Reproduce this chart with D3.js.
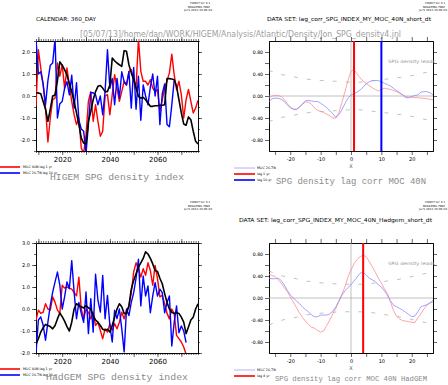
<!DOCTYPE html>
<html>
<head>
<meta charset="utf-8">
<script src="https://cdn.jsdelivr.net/npm/d3@7"></script>
<style>
body { margin: 0; background: #fff; }
text { font-family: "DejaVu Sans", sans-serif; }
</style>
</head>
<body>
<svg id="fig" width="448" height="385"></svg>
<script>
// ---- data ----
var years = d3.range(2009, 2078);
var lags = d3.range(-27, 28);

// HiGEM (top left)
var higemIndex = [0.14,0.14,0.1,-0.25,-0.6,-1.15,-0.6,0.0,0.05,0.7,
  1.55,1.4,1.2,0.95,0.55,0.2,-0.25,-0.77,-1.3,-1.9,
  -2.14,-2.18,-1.15,-0.7,-0.17,0.2,0.44,0.48,0.36,0.2,
  0.2,0.5,1.72,1.6,1.5,1.42,1.35,2.06,2.03,1.42,
  1.05,0.74,0.36,-0.02,-0.1,-0.06,-0.17,-0.32,-0.47,-0.47,
  -0.44,-0.44,-0.42,-0.42,-0.4,0.79,0.79,0.77,0.74,0.44,
  -0.17,-0.77,-1.27,-1.33,-0.95,-1.08,-1.6,-2.06,-2.18];
var higemMoc40 = [-0.47,2.1,1.27,0.5,-0.55,-2.09,-1.0,-0.17,-0.1,1.5,
  0.9,1.42,0.36,1.27,0.5,-0.24,-0.85,-1.3,-1.0,-2.36,
  -2.6,-1.76,-0.24,0.2,-1.15,-0.4,-1.15,-1.83,-1.6,0.0,
  0.06,-0.85,0.06,0.97,0.36,-0.24,0.2,0.67,0.5,1.12,
  1.2,0.82,0.36,2.6,1.12,0.67,0.67,0.5,0.74,0.36,
  0.2,0.29,-0.7,-0.17,0.36,0.7,1.05,1.9,0.97,0.29,
  0.67,0.06,-1.0,-0.17,0.3,-0.24,-0.77,-0.55,-0.2];
var higemMoc26 = [2.6,1.0,1.1,0.55,-0.4,0.7,1.4,1.5,2.6,-1.0,
  -0.35,-0.25,0.35,0.65,0.05,0.95,-0.55,0.6,-1.1,-1.5,
  -1.6,-2.6,-1.3,0.15,0.15,0.05,-0.4,0.0,-0.85,0.2,
  2.1,0.35,0.8,-0.4,0.8,-0.1,1.1,0.65,0.5,1.1,
  -0.55,1.3,-0.6,0.9,-1.1,0.5,0.0,-0.4,0.4,1.0,
  0.0,0.9,-1.3,0.1,0.55,-1.3,-1.4,-0.4,0.7];

// HadGEM (bottom left)
var hadgemIndex = [-1.6,-1.35,-1.05,-0.85,-0.7,-0.75,-0.8,-0.9,-0.75,-0.45,
  -0.18,-0.35,-0.55,-0.8,-1.0,-0.6,0.0,0.24,0.15,0.1,
  0.05,0.15,0.05,0.0,-0.3,-0.5,-0.6,-0.75,-0.92,-0.97,
  -0.92,-1.05,-0.75,-0.37,0.0,0.24,0.1,-0.2,-0.2,0.15,
  0.9,1.3,1.6,1.9,2.1,2.3,2.6,2.5,2.3,2.05,
  1.75,1.7,1.4,1.15,0.7,0.3,0.0,-0.15,-0.2,-0.17,
  -0.2,-0.37,-0.6,-1.12,-0.82,-0.5,-0.37,0.0,0.24];
var hadgemMoc40 = [-0.5,-0.05,-0.2,-0.15,0.24,0.0,-0.05,0.55,0.3,-0.05,
  -0.2,1.08,0.95,1.0,0.95,0.9,0.75,0.6,1.45,0.0,
  -0.45,0.0,-0.15,-0.45,-0.15,-0.75,-0.6,-0.97,-1.35,-0.9,
  -1.05,-0.67,-0.97,-0.67,-0.9,-0.6,-0.15,-0.45,-0.05,0.1,
  0.75,1.68,2.1,1.83,1.45,1.83,1.53,2.1,1.75,1.08,
  1.98,1.38,0.55,0.62,0.24,-0.2,-0.45,0.0,-0.2,-1.2,
  -1.35,-1.5,-1.73,-2.05];
var hadgemMoc26 = [-2.0,-0.5,-0.36,-0.74,-1.42,-0.6,0.17,0.77,1.23,1.68,
  1.08,0.0,0.55,1.23,0.92,2.2,0.77,-0.44,0.3,-0.2,
  -0.6,0.77,-1.12,0.47,-1.05,1.58,0.4,-0.14,1.53,-0.44,
  0.62,-0.74,-1.5,-0.06,-0.44,0.0,-0.9,-1.95,0.0,-0.3,
  0.3,0.74,1.4,2.26,0.14,1.5,0.59,1.05,-0.17,0.6,
  1.2,0.59,0.9,0.74,-0.17,0.3,0.59,-1.68,-0.62,0.14,
  -1.08,-0.77,-1.0,-1.53];

// lag correlations, lags -27..27
var corrHigem40 = [-0.04,0.0,0.01,0.01,-0.01,-0.06,-0.14,-0.2,-0.24,-0.25,
  -0.21,-0.15,-0.11,-0.11,-0.15,-0.22,-0.26,-0.28,-0.3,-0.33,
  -0.36,-0.4,-0.4,-0.3,-0.12,0.08,0.28,0.45,0.48,0.4,
  0.33,0.27,0.23,0.19,0.15,0.12,0.09,0.12,0.14,0.13,
  0.12,0.1,0.08,0.05,0.02,-0.01,-0.02,-0.02,-0.03,-0.03,
  -0.04,-0.04,-0.05,-0.06,-0.07];
var corrHigem26 = [-0.1,-0.05,-0.04,-0.04,-0.06,-0.1,-0.16,-0.21,-0.24,-0.24,
  -0.2,-0.14,-0.09,-0.08,-0.09,-0.1,-0.1,-0.13,-0.17,-0.21,
  -0.27,-0.32,-0.39,-0.34,-0.25,-0.14,-0.04,0.02,0.04,0.07,
  0.11,0.16,0.22,0.26,0.28,0.28,0.28,0.26,0.23,0.21,
  0.18,0.14,0.1,0.06,0.02,-0.03,-0.03,-0.01,0.01,0.02,
  0.07,0.08,0.08,0.06,0.02];
var corrHadgem40 = [0.43,0.41,0.39,0.33,0.27,0.19,0.12,0.02,-0.07,-0.17,
  -0.27,-0.35,-0.42,-0.48,-0.53,-0.55,-0.59,-0.62,-0.6,-0.5,
  -0.4,-0.29,-0.19,-0.06,0.07,0.2,0.38,0.51,0.62,0.7,
  0.75,0.78,0.75,0.66,0.57,0.47,0.36,0.27,0.17,0.08,
  -0.07,-0.23,-0.33,-0.38,-0.41,-0.42,-0.43,-0.44,-0.45,-0.36,
  -0.29,-0.2,-0.13,-0.09,-0.04];
var corrHadgem26 = [0.36,0.35,0.35,0.36,0.32,0.24,0.14,0.06,0.0,-0.05,
  -0.1,-0.16,-0.21,-0.25,-0.31,-0.34,-0.34,-0.31,-0.31,-0.31,
  -0.29,-0.24,-0.16,-0.06,0.05,0.13,0.19,0.24,0.31,0.38,
  0.45,0.47,0.42,0.36,0.33,0.3,0.24,0.2,0.13,0.05,
  -0.05,-0.13,-0.16,-0.19,-0.22,-0.26,-0.3,-0.34,-0.33,-0.25,
  -0.16,-0.14,-0.12,-0.09,-0.07];

// significance levels (dashed)
var sigLags = [-27,-24,-21,-18,-15,-12,-9,-6,-3,0,3,6,9,12,15,18,21,24,27];
var sigHigem = [0.47,0.4,0.37,0.34,0.31,0.29,0.28,0.27,0.26,0.25,0.25,0.27,0.29,0.31,0.33,0.35,0.38,0.42,0.46];
var sigHadgem = [0.49,0.42,0.38,0.35,0.31,0.29,0.27,0.26,0.25,0.25,0.25,0.26,0.28,0.31,0.33,0.37,0.4,0.44,0.47];

var lagMarksTop = [1, 10];
var lagMarksBottom = [4];

var yearLabels = [2020, 2040, 2060];
var lagLabels = [-20, -10, 0, 10, 20];

var svg = d3.select("#fig");
var clipN = 0;

function onlyLabels(list, fmt) {
  return function(d) { return list.indexOf(d) >= 0 ? fmt(d) : ""; };
}

function frame(x, y, xMajor, xMinor, xFmt, yMajor, yMinor, yFmt, xSize, ySize) {
  var xl = x.range()[0], xr = x.range()[1], yb = y.range()[0], yt = y.range()[1];
  var sides = [
    [d3.axisBottom, "translate(0," + yb + ")", x, xMinor, xMajor, xFmt, xSize],
    [d3.axisTop, "translate(0," + yt + ")", x, xMinor, xMajor, null, 0],
    [d3.axisLeft, "translate(" + xl + ",0)", y, yMinor, yMajor, yFmt, ySize],
    [d3.axisRight, "translate(" + xr + ",0)", y, yMinor, yMajor, null, 0]
  ];
  sides.forEach(function(s) {
    svg.append("g").attr("transform", s[1])
      .call(s[0](s[2]).tickValues(s[3]).tickSize(2).tickSizeOuter(0).tickFormat(""));
    var g = svg.append("g").attr("transform", s[1])
      .call(s[0](s[2]).tickValues(s[4]).tickSize(4).tickSizeOuter(0).tickPadding(2)
        .tickFormat(s[5] ? s[5] : ""));
    g.attr("font-family", "DejaVu Sans").attr("font-size", s[6] || 5);
  });
  svg.selectAll(".domain").attr("stroke", "#000").attr("stroke-width", 0.8);
  svg.selectAll(".tick line").attr("stroke", "#000").attr("stroke-width", 0.6);
  clipN++;
  svg.append("clipPath").attr("id", "clip" + clipN)
    .append("rect").attr("x", xl).attr("y", yt).attr("width", xr - xl).attr("height", yb - yt);
  return "url(#clip" + clipN + ")";
}

function series(x, y, clip, xs, vals, color, width) {
  var line = d3.line().x(function(d, i) { return x(xs[i]); }).y(function(d) { return y(d); });
  svg.append("path").datum(vals)
    .attr("clip-path", clip)
    .attr("fill", "none").attr("stroke", color).attr("stroke-width", width)
    .attr("stroke-linejoin", "round")
    .attr("d", line);
}

function text(x, y, s, size, color, opts) {
  opts = opts || {};
  var t = svg.append("text").attr("x", x).attr("y", y).attr("font-size", size)
    .attr("fill", color).text(s);
  if (opts.len) t.attr("textLength", opts.len).attr("lengthAdjust", "spacingAndGlyphs");
  if (opts.family) t.style("font-family", opts.family);
  if (opts.anchor) t.attr("text-anchor", opts.anchor);
  return t;
}

function stamp(x, y) {
  text(x, y, "FERRET Ver. 6.1", 2.6, "#000", {len: 20});
  text(x - 2, y + 3.5, "NOAA/PMEL TMAP", 2.6, "#000", {len: 22});
  text(x - 6, y + 7, "Jul 5 2013 15:06:10", 2.6, "#000", {len: 28});
}

function legendLine(x1, x2, y, color, width, label, lx) {
  svg.append("line").attr("x1", x1).attr("x2", x2).attr("y1", y).attr("y2", y)
    .attr("stroke", color).attr("stroke-width", width);
  text(lx, y + 1.2, label, 3.3, "#000");
}

// ---- time series panels ----
function tsPanel(top, ydom, yLabels, idx, m40, m26, title, tlen, tx, ty) {
  var x = d3.scaleLinear().domain([2009, 2077]).range([36, 198]);
  var y = d3.scaleLinear().domain(ydom).range([top + 110, top]);
  var clip = frame(x, y,
    d3.range(2010, 2078, 10), years, onlyLabels(yearLabels, String),
    yLabels, d3.range(ydom[0], ydom[1] + 0.01, 0.5), function(d) { return d.toFixed(1); },
    7, 5);
  series(x, y, clip, years, m40, "#ff0000", 1.4);
  series(x, y, clip, years, m26, "#0000ff", 1.4);
  series(x, y, clip, years, idx, "#000", 1.6);
  legendLine(0, 20, top + 126, "#ff0000", 1.6, "MOC 40N lag 1 yr", 23);
  legendLine(0, 20, top + 132, "#0000ff", 1.6, "MOC 26.7N lag 10 yr", 23);
  text(tx, ty, title, 9.6, "#8a8a8a", {len: tlen, family: "Liberation Mono"});
}

// ---- correlation panels ----
function corrPanel(top, c40, c26, sig, marks, markColors, legend, title, tlen, tx, ty, tsize) {
  var x = d3.scaleLinear().domain([-27, 27]).range([269, 433]);
  var y = d3.scaleLinear().domain([-1, 1]).range([top + 110, top]);
  var clip = frame(x, y,
    d3.range(-25, 27, 5), [], onlyLabels(lagLabels, String),
    [-0.8, -0.6, -0.4, -0.2, 0, 0.2, 0.4, 0.6, 0.8], [],
    onlyLabels([-0.8, -0.4, 0, 0.4, 0.8], function(d) { return d.toFixed(2); }),
    5, 4.6);
  svg.append("line").attr("x1", x(-27)).attr("x2", x(27)).attr("y1", y(0)).attr("y2", y(0))
    .attr("stroke", "#b0b0b0").attr("stroke-width", 0.8);
  svg.append("line").attr("x1", x(0)).attr("x2", x(0)).attr("y1", y(-1)).attr("y2", y(1))
    .attr("stroke", "#b0b0b0").attr("stroke-width", 0.8);
  var sl = d3.line().x(function(d, i) { return x(sigLags[i]); }).y(function(d) { return y(d); });
  [sig, sig.map(function(d) { return -d; })].forEach(function(s) {
    svg.append("path").datum(s).attr("fill", "none").attr("stroke", "#999")
      .attr("stroke-width", 0.6).attr("stroke-dasharray", "4,9").attr("d", sl);
  });
  series(x, y, clip, lags, c40, "#ff8c8c", 0.8);
  series(x, y, clip, lags, c26, "#8c8cff", 0.8);
  marks.forEach(function(m, i) {
    svg.append("line").attr("x1", x(m)).attr("x2", x(m)).attr("y1", y(-1)).attr("y2", y(1))
      .attr("stroke", markColors[i]).attr("stroke-width", 2);
  });
  text(388, top + 22, "SPG density leads", 4.4, "#9a9a9a", {len: 47});
  text(x(0), top + 127, "X", 5, "#555", {anchor: "middle"});
  legend.forEach(function(l, i) {
    legendLine(234, 255, top + 127 + i * 6, l[1], l[2], l[0], 257);
  });
  text(tx, ty, title, tsize, "#8a8a8a", {len: tlen, family: "Liberation Mono"});
}

// top row
stamp(190, 4);
stamp(425, 4);
text(36, 21, "CALENDAR: 360_DAY", 5.5, "#000", {len: 60});
text(267, 21, "DATA SET: lag_corr_SPG_INDEX_MY_MOC_40N_short_dt", 5.5, "#000", {len: 164});
text(80, 36.5, "[05/07/13]/home/dan/WORK/HIGEM/Analysis/Atlantic/Density/Jon_SPG_density4.jnl",
  8.5, "#a0a0a0", {len: 321});

tsPanel(41, [-2.5, 2.5], [-2, -1, 0, 1, 2], higemIndex, higemMoc40, higemMoc26,
  "HIGEM SPG density index", 134, 50, 180);
corrPanel(41, corrHigem40, corrHigem26, sigHigem, lagMarksTop, ["#ff0000", "#0000ff"],
  [["MOC 26.7N", "#a0a0ff", 0.8], ["lag 1 yr", "#ff0000", 1.6], ["lag 10 yr", "#0000ff", 1.6]],
  "SPG density lag corr MOC 40N", 150, 276, 184, 9);

// bottom row
stamp(190, 203);
stamp(425, 203);
text(239, 222, "DATA SET: lag_corr_SPG_INDEX_MY_MOC_40N_Hadgem_short_dt", 5.5, "#000", {len: 193});

tsPanel(243, [-2, 3], [-2, -1, 0, 1, 2, 3], hadgemIndex, hadgemMoc40, hadgemMoc26,
  "HadGEM SPG density index", 142, 46, 380);
corrPanel(243, corrHadgem40, corrHadgem26, sigHadgem, lagMarksBottom, ["#ff0000"],
  [["MOC 26.7N", "#a0a0ff", 0.8], ["lag 4 yr", "#ff0000", 1.6]],
  "SPG density lag corr MOC 40N HadGEM", 152, 275, 381, 7.5);
</script>
</body>
</html>
